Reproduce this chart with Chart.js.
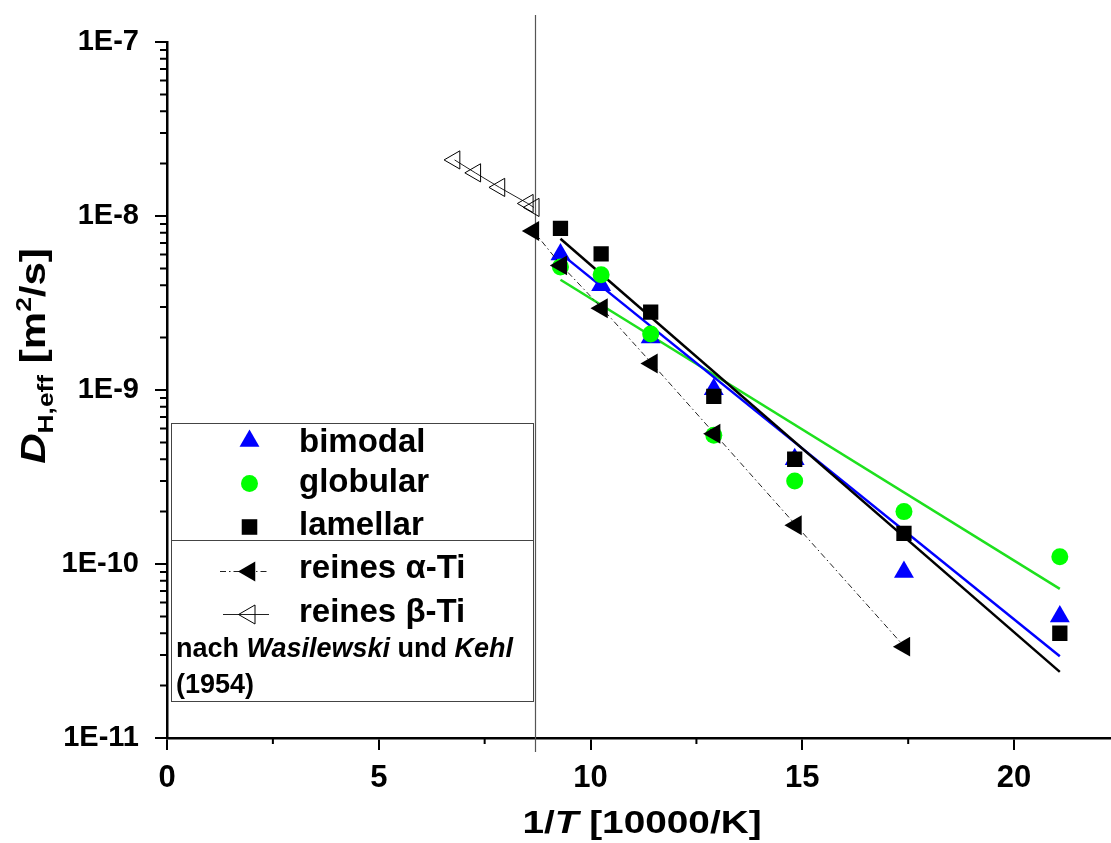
<!DOCTYPE html>
<html>
<head>
<meta charset="utf-8">
<script src="https://cdn.jsdelivr.net/npm/chart.js@4/dist/chart.umd.min.js"></script>
<style>
  html, body { margin: 0; padding: 0; background: #fff; overflow: hidden; }
  /* canvas is a bit wider than the window: Chart.js keeps room for the point
     overflow on the right, the extra strip falls outside the 1111px view */
  #chart { display: block; }
</style>
</head>
<body>
<canvas id="chart" width="1123" height="843"></canvas>
<script>
const FONT = "'Liberation Sans', Arial, sans-serif";

// 1/T [10000/K] of the measurements (800 ... 200 °C)
const sampleX = [9.29, 10.25, 11.42, 12.91, 14.82, 17.40, 21.08];

// D_H,eff [m^2/s]
const bimodal  = [6.0e-9, 4.0e-9, 2.0e-9, 1.01e-9, 4.0e-10, 9.0e-11, 5.0e-11];
const globular = [5.1e-9, 4.6e-9, 2.1e-9, 5.5e-10, 3.0e-10, 2.0e-10, 1.1e-10];
const lamellar = [8.5e-9, 6.05e-9, 2.8e-9, 9.2e-10, 4.0e-10, 1.5e-10, 4.0e-11];

// fitted lines, start and end value over sampleX range
const fitX        = [9.29, 21.08];
const bimodalFit  = [6.1e-9, 2.95e-11];
const globularFit = [4.3e-9, 7.2e-11];
const lamellarFit = [7.4e-9, 2.4e-11];

// Wasilewski und Kehl (1954)
const alphaX = [8.65, 9.31, 10.27, 11.45, 12.93, 14.85, 17.41];
const alphaY = [8.2e-9, 5.2e-9, 2.95e-9, 1.42e-9, 5.6e-10, 1.67e-10, 3.35e-11];
const betaX  = [6.79, 7.28, 7.85, 8.52, 8.66];
const betaY  = [2.1e-8, 1.77e-8, 1.46e-8, 1.18e-8, 1.12e-8];

// alpha/beta transus marker
const transusX = 8.7;

// axes
const xTicks = [0, 5, 10, 15, 20];
const xMinorTicks = [2.5, 7.5, 12.5, 17.5];
const yTicks = [1e-11, 1e-10, 1e-9, 1e-8, 1e-7];
const yTickLabels = ['1E-11', '1E-10', '1E-9', '1E-8', '1E-7'];

const pts = (xs, ys) => xs.map((x, i) => ({ x: x, y: ys[i] }));

// draw text made of runs with different fonts
function runsWidth(ctx, runs) {
  let w = 0;
  for (const r of runs) { ctx.font = r.font; w += ctx.measureText(r.text).width; }
  return w;
}
function drawRuns(ctx, runs, x, y) {
  let cx = x;
  for (const r of runs) {
    ctx.font = r.font;
    ctx.fillText(r.text, cx, y + (r.dy || 0));
    cx += ctx.measureText(r.text).width;
  }
}

const extras = {
  id: 'extras',
  beforeDatasetsDraw(chart) {
    const ctx = chart.ctx, xs = chart.scales.x;
    const px = Math.round(xs.getPixelForValue(transusX)) + 0.5;
    ctx.save();
    ctx.strokeStyle = '#555';
    ctx.lineWidth = 1.2;
    ctx.beginPath();
    ctx.moveTo(px, 15);
    ctx.lineTo(px, 752);
    ctx.stroke();
    ctx.restore();
  },
  afterDraw(chart) {
    const ctx = chart.ctx, xs = chart.scales.x, ys = chart.scales.y;
    const area = chart.chartArea;
    ctx.save();

    // minor ticks
    ctx.strokeStyle = '#000';
    ctx.lineWidth = 2;
    ctx.beginPath();
    for (let e = -11; e < -7; e++) {
      for (let k = 2; k <= 9; k++) {
        const py = ys.getPixelForValue(k * Math.pow(10, e));
        ctx.moveTo(area.left - 7, py);
        ctx.lineTo(area.left, py);
      }
    }
    for (const v of xMinorTicks) {
      const px = xs.getPixelForValue(v);
      ctx.moveTo(px, area.bottom);
      ctx.lineTo(px, area.bottom + 6);
    }
    ctx.stroke();

    // axis titles
    ctx.fillStyle = '#000';
    ctx.textBaseline = 'alphabetic';
    ctx.textAlign = 'left';

    const yRuns = [
      { text: 'D', font: `italic bold 35px ${FONT}` },
      { text: 'H,eff', font: `bold 22px ${FONT}`, dy: 8 },
      { text: ' [m', font: `bold 35px ${FONT}` },
      { text: '2', font: `bold 22px ${FONT}`, dy: -14 },
      { text: '/s]', font: `bold 35px ${FONT}` }
    ];
    const yw = runsWidth(ctx, yRuns);
    ctx.save();
    ctx.translate(45, 356);
    ctx.rotate(-Math.PI / 2);
    ctx.scale(1.2, 1);
    drawRuns(ctx, yRuns, -yw / 2, 0);
    ctx.restore();

    const xRuns = [
      { text: '1/', font: `bold 31px ${FONT}` },
      { text: 'T', font: `italic bold 31px ${FONT}` },
      { text: ' [10000/K]', font: `bold 31px ${FONT}` }
    ];
    const xw = runsWidth(ctx, xRuns);
    ctx.save();
    ctx.translate(642, 833);
    ctx.scale(1.25, 1);
    drawRuns(ctx, xRuns, -xw / 2, 0);
    ctx.restore();

    // legend
    const box = { l: 171, t: 423, r: 533, b: 701, sep: 540 };
    ctx.fillStyle = '#fff';
    ctx.fillRect(box.l, box.t, box.r - box.l, box.b - box.t);
    ctx.strokeStyle = '#444';
    ctx.lineWidth = 1;
    ctx.strokeRect(box.l + 0.5, box.t + 0.5, box.r - box.l, box.b - box.t);
    ctx.beginPath();
    ctx.moveTo(box.l, box.sep + 0.5);
    ctx.lineTo(box.r, box.sep + 0.5);
    ctx.stroke();

    const mx = 249.5, tx = 299;
    const entries = [
      { label: 'bimodal', style: 'triangle', r: 11.5, fill: '#0000ff', y: 441, base: 452 },
      { label: 'globular', style: 'circle', r: 8.5, fill: '#00ff00', y: 483.5, base: 492 },
      { label: 'lamellar', style: 'rect', r: 11, fill: '#000', y: 527, base: 535 },
      { label: 'reines \u03b1-Ti', style: 'triangle', rot: -90, r: 11.5, fill: '#000', y: 571.5, base: 578, line: 'dashdot' },
      { label: 'reines \u03b2-Ti', style: 'triangle', rot: -90, r: 11, fill: null, y: 614.5, base: 622, line: 'solid' }
    ];
    for (const it of entries) {
      if (it.line) {
        ctx.save();
        ctx.strokeStyle = '#222';
        ctx.lineWidth = 1;
        if (it.line === 'dashdot') ctx.setLineDash([6, 3, 1.5, 3]);
        ctx.beginPath();
        ctx.moveTo(it.line === 'dashdot' ? 220 : 223, it.y);
        ctx.lineTo(269, it.y);
        ctx.stroke();
        ctx.restore();
      }
      ctx.save();
      ctx.fillStyle = it.fill || 'rgba(0,0,0,0)';
      ctx.strokeStyle = it.fill ? it.fill : '#000';
      ctx.lineWidth = it.fill ? 0.01 : 1;
      Chart.helpers.drawPoint(ctx, {
        pointStyle: it.style, radius: it.r, rotation: it.rot || 0,
        borderWidth: it.fill ? 0 : 1
      }, mx, it.y);
      ctx.restore();
      ctx.fillStyle = '#000';
      ctx.font = `bold 33px ${FONT}`;
      ctx.fillText(it.label, tx, it.base);
    }

    drawRuns(ctx, [
      { text: 'nach ', font: `bold 27px ${FONT}` },
      { text: 'Wasilewski', font: `italic bold 27px ${FONT}` },
      { text: ' und ', font: `bold 27px ${FONT}` },
      { text: 'Kehl', font: `italic bold 27px ${FONT}` }
    ], 176, 657);
    ctx.font = `bold 27px ${FONT}`;
    ctx.fillText('(1954)', 176, 693);

    ctx.restore();
  }
};

const axisGrid = { drawOnChartArea: false, drawTicks: true, tickLength: 12, color: '#000', lineWidth: 2 };

new Chart(document.getElementById('chart'), {
  type: 'scatter',
  data: {
    datasets: [
      {
        label: 'reines \u03b1-Ti', data: pts(alphaX, alphaY), showLine: true,
        borderColor: '#222', borderWidth: 1, borderDash: [6, 3, 1.5, 3],
        pointStyle: 'triangle', rotation: -90, pointRadius: 11.5,
        pointBackgroundColor: '#000', pointBorderColor: '#000', pointBorderWidth: 0
      },
      {
        label: 'reines \u03b2-Ti', data: pts(betaX, betaY), showLine: true,
        borderColor: '#222', borderWidth: 1,
        pointStyle: 'triangle', rotation: -90, pointRadius: 10.5,
        pointBackgroundColor: 'rgba(0,0,0,0)', pointBorderColor: '#000', pointBorderWidth: 1
      },
      {
        label: 'lamellar', data: pts(sampleX, lamellar),
        pointStyle: 'rect', pointRadius: 10.8,
        pointBackgroundColor: '#000', pointBorderWidth: 0
      },
      {
        label: 'globular', data: pts(sampleX, globular),
        pointStyle: 'circle', pointRadius: 8.5,
        pointBackgroundColor: '#00ff00', pointBorderWidth: 0
      },
      {
        label: 'bimodal', data: pts(sampleX, bimodal),
        pointStyle: 'triangle', pointRadius: 11.5,
        pointBackgroundColor: '#0000ff', pointBorderWidth: 0
      },
      {
        label: 'lamellar fit', data: pts(fitX, lamellarFit), showLine: true,
        borderColor: '#000', borderWidth: 2.5, pointRadius: 0
      },
      {
        label: 'bimodal fit', data: pts(fitX, bimodalFit), showLine: true,
        borderColor: '#0000ff', borderWidth: 2.5, pointRadius: 0
      },
      {
        label: 'globular fit', data: pts(fitX, globularFit), showLine: true,
        borderColor: '#1ee01e', borderWidth: 2.5, pointRadius: 0
      }
    ]
  },
  options: {
    responsive: false,
    devicePixelRatio: 1,
    animation: false,
    layout: { padding: { top: 42, right: 0, bottom: 0, left: 0 } },
    plugins: {
      legend: { display: false },
      tooltip: { enabled: false }
    },
    scales: {
      x: {
        type: 'linear', position: 'bottom', min: 0, max: 22.3,
        border: { color: '#000', width: 2.5 },
        grid: axisGrid,
        ticks: {
          color: '#000', padding: 10, autoSkip: false, maxRotation: 0,
          font: { family: FONT, size: 31, weight: 'bold' }
        },
        afterBuildTicks: s => { s.ticks = xTicks.map(v => ({ value: v })); },
        afterFit: s => { s.height = 105; }
      },
      y: {
        type: 'logarithmic', position: 'left', min: 1e-11, max: 1e-7,
        border: { color: '#000', width: 2.5 },
        grid: axisGrid,
        ticks: {
          color: '#000', padding: 16, autoSkip: false,
          font: { family: FONT, size: 29, weight: 'bold' },
          callback: (v, i) => yTickLabels[i]
        },
        afterBuildTicks: s => { s.ticks = yTicks.map(v => ({ value: v })); },
        afterFit: s => { s.width = 167; }
      }
    }
  },
  plugins: [extras]
});
</script>
</body>
</html>
